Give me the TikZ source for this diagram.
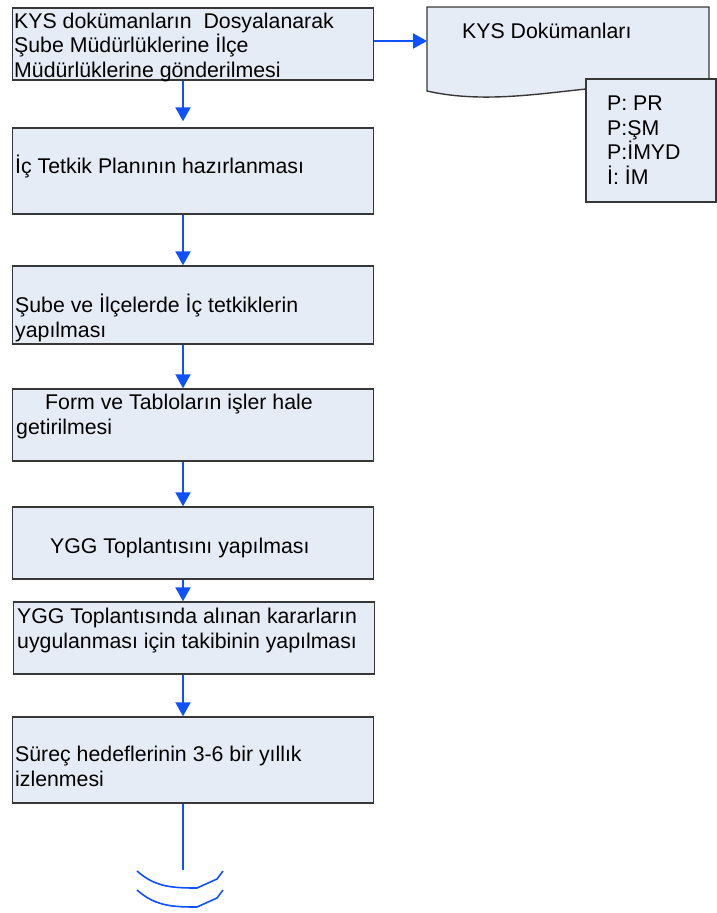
\documentclass[tikz,border=0pt]{standalone}
\usepackage{fontspec}
\setmainfont{Liberation Sans}
\usetikzlibrary{arrows.meta}
\definecolor{kutumavi}{RGB}{230,236,246}
\definecolor{cizgi}{RGB}{55,55,55}
\definecolor{okmavi}{RGB}{15,80,255}

\begin{document}
\begin{tikzpicture}[x=1pt,y=-1pt,
    kutu/.style={draw=cizgi,fill=kutumavi,line width=1.4pt,minimum width=361pt,inner sep=0pt},
    yazi/.style={anchor=base west,align=left,inner sep=0pt,font=\fontsize{21.3}{24.5}\selectfont},
    ok/.style={okmavi,line width=2pt,-{Triangle[length=14pt,width=15pt]}}]
  \useasboundingbox (0,0) rectangle (717,913);
  % akis kutulari
  \node (k1) [kutu,minimum height=72pt] at (193,44) {};
  \node (k2) [kutu,minimum height=86pt] at (193,171) {};
  \node (k3) [kutu,minimum height=78pt] at (193,305) {};
  \node (k4) [kutu,minimum height=72pt] at (193,425) {};
  \node (k5) [kutu,minimum height=72pt] at (193,543) {};
  \node (k6) [kutu,minimum height=72pt] at (194,638) {};
  \node (k7) [kutu,minimum height=86pt] at (193,760) {};
  % yazilar (base = son satir)
  \node (t1) [yazi] at (14,77) {KYS dokümanların\ \ Dosyalanarak\\Şube Müdürlüklerine İlçe\\Müdürlüklerine gönderilmesi};
  \node (t2) [yazi] at (15,173) {İç Tetkik Planının hazırlanması};
  \node (t3) [yazi] at (15,337) {Şube ve İlçelerde İç tetkiklerin\\yapılması};
  \node (t4) [yazi] at (16,434) {\hspace*{29pt}Form ve Tabloların işler hale\\getirilmesi};
  \node (t5) [yazi] at (50,553) {YGG Toplantısını yapılması};
  \node (t6) [yazi] at (17,648) {YGG Toplantısında alınan kararların\\uygulanması için takibinin yapılması};
  \node (t7) [yazi] at (15,786) {Süreç hedeflerinin 3-6 bir yıllık\\izlenmesi};
  % dokuman
  \draw[draw=cizgi,fill=kutumavi,line width=1.4pt] (427,7) -- (709,7) -- (709,91)
    .. controls (615,70) and (520,112) .. (427,91) -- cycle;
  \node (b1) [yazi] at (462,38) {KYS Dokümanları};
  \coordinate (belge) at (427,41);
  \node (kod) [kutu,minimum width=130pt,minimum height=123pt] at (651,140.5) {};
  \node (kodlar) [yazi] at (607,184) {P: PR\\P:ŞM\\P:İMYD\\İ: İM};
  % oklar
  \coordinate (eksen) at (183,0);
  \draw[ok] (k1.east |- belge) -- (belge);
  \draw[ok,shorten >=6pt] (k1.south -| eksen) -- (k2.north -| eksen);
  \foreach \a/\b in {k2/k3,k3/k4,k4/k5,k5/k6,k6/k7}
    \draw[ok] (\a.south -| eksen) -- (\b.north -| eksen);
  \coordinate (son) at (183,870);
  \draw[okmavi,line width=2pt] (k7.south -| eksen) -- (son);
  \draw[okmavi,line width=1.6pt] (137,871) .. controls (155,887) and (172,888) .. (197,888) -- (217,879) -- (223,871);
  \draw[okmavi,line width=1.6pt] (137,890) .. controls (155,906) and (172,907) .. (197,907) -- (217,898) -- (223,890);
\end{tikzpicture}
\end{document}
